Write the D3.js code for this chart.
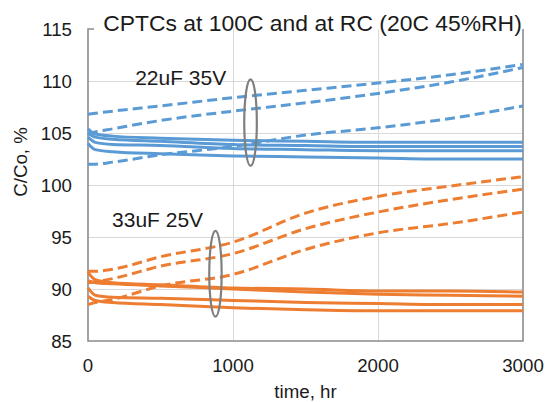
<!DOCTYPE html>
<html lang="en">
<head>
<meta charset="utf-8">
<title>CPTCs</title>
<script src="https://cdn.jsdelivr.net/npm/d3@7"></script>
<style>
  body { margin: 0; background: #fff; }
  svg text { font-family: "Liberation Sans", Arial, sans-serif; fill: #1a1a1a; }
  .grid line { stroke: #d9d9d9; stroke-width: 1.3; shape-rendering: crispEdges; }
  .grid path { stroke: none; }
  .frame { stroke: #8c8c8c; stroke-width: 1.6; fill: none; }
  .series { fill: none; stroke-width: 3; stroke-linejoin: round; }
</style>
</head>
<body>
<script>
  // hours
  var times = [0, 50, 170, 500, 1000, 1500, 2000, 2500, 3000];

  // 22uF 35V, dashed = 100C, solid = RC
  var blueDashed1 = [106.8, 106.9, 107.1, 107.6, 108.4, 109.1, 109.8, 110.6, 111.6];
  var blueDashed2 = [104.9, 105.1, 105.4, 106.2, 107.1, 107.9, 108.8, 109.9, 111.3];
  var blueDashed3 = [102.0, 102.0, 102.2, 102.9, 103.7, 104.8, 105.5, 106.4, 107.6];
  var blueSolid1 = [105.4, 104.9, 104.7, 104.5, 104.3, 104.2, 104.1, 104.1, 104.1];
  var blueSolid2 = [105.0, 104.6, 104.4, 104.2, 103.9, 103.8, 103.7, 103.7, 103.7];
  var blueSolid3 = [104.6, 104.1, 103.9, 103.8, 103.5, 103.4, 103.3, 103.3, 103.3];
  var blueSolid4 = [104.0, 103.4, 103.2, 103.0, 102.8, 102.7, 102.6, 102.5, 102.5];

  // 33uF 25V
  var orangeDashed1 = [91.7, 91.7, 91.9, 93.1, 94.5, 97.3, 98.9, 99.9, 100.8];
  var orangeDashed2 = [90.6, 90.7, 91.0, 92.2, 93.4, 95.8, 97.4, 98.6, 99.6];
  var orangeDashed3 = [88.5, 88.7, 89.0, 90.3, 91.4, 93.8, 95.4, 96.3, 97.4];
  var orangeSolid1 = [91.6, 90.9, 90.6, 90.4, 90.1, 90.0, 89.8, 89.8, 89.7];
  var orangeSolid2 = [90.8, 90.6, 90.5, 90.3, 90.0, 89.7, 89.5, 89.4, 89.3];
  var orangeSolid3 = [90.1, 89.4, 89.2, 89.1, 88.9, 88.7, 88.6, 88.5, 88.5];
  var orangeSolid4 = [89.3, 88.9, 88.7, 88.5, 88.2, 88.0, 87.9, 87.9, 87.9];

  var xTicks = [0, 1000, 2000, 3000];
  var yTicks = [85, 90, 95, 100, 105, 110, 115];

  var blue = "#5b9bd5", orange = "#ed7d31";

  var w = 549, h = 402;
  var m = { top: 29, right: 26, bottom: 61, left: 88 };

  var x = d3.scaleLinear().domain([0, 3000]).range([m.left, w - m.right]);
  var y = d3.scaleLinear().domain([85, 115]).range([h - m.bottom, m.top]);

  var svg = d3.select("body").append("svg")
    .attr("width", w)
    .attr("height", h);

  // horizontal gridlines (no line at the top)
  svg.append("g")
    .attr("class", "grid")
    .attr("transform", "translate(" + m.left + ",0)")
    .call(d3.axisLeft(y).tickValues([90, 95, 100, 105, 110])
      .tickSize(-(w - m.left - m.right)).tickFormat(""));

  // vertical gridlines
  svg.append("g")
    .attr("class", "grid")
    .attr("transform", "translate(0," + (h - m.bottom) + ")")
    .call(d3.axisBottom(x).tickValues([1000, 2000])
      .tickSize(-(h - m.top - m.bottom)).tickFormat(""));

  // axis lines + right border
  svg.append("path")
    .attr("class", "frame")
    .attr("d", "M" + (x(0) + 6) + "," + y(115) + "H" + x(0) + "V" + y(85) + "H" + x(3000) + "V" + y(115));

  // tick labels
  svg.append("g").selectAll("text")
    .data(yTicks).enter().append("text")
    .attr("x", x(0) - 16)
    .attr("y", function(d) { return y(d); })
    .attr("dy", "0.35em")
    .attr("text-anchor", "end")
    .style("font-size", "18.7px")
    .text(function(d) { return d; });

  svg.append("g").selectAll("text")
    .data(xTicks).enter().append("text")
    .attr("x", function(d) { return x(d); })
    .attr("y", 372)
    .attr("text-anchor", "middle")
    .style("font-size", "18.7px")
    .text(function(d) { return d; });

  // titles
  svg.append("text")
    .attr("x", 312.5).attr("y", 31)
    .attr("text-anchor", "middle")
    .style("font-size", "22.9px")
    .text("CPTCs at 100C and at RC (20C 45%RH)");

  svg.append("text")
    .attr("x", (x(0) + x(3000)) / 2).attr("y", 398)
    .attr("text-anchor", "middle")
    .style("font-size", "18.7px")
    .text("time, hr");

  svg.append("text")
    .attr("transform", "translate(20,162) rotate(-90)")
    .attr("dy", "0.35em")
    .attr("text-anchor", "middle")
    .style("font-size", "18.7px")
    .text("C/Co, %");

  // series
  var line = d3.line()
    .x(function(d, i) { return x(times[i]); })
    .y(function(d) { return y(d); })
    .curve(d3.curveMonotoneX);

  var series = [
    { v: blueSolid1, c: blue, dash: false },
    { v: blueSolid2, c: blue, dash: false },
    { v: blueSolid3, c: blue, dash: false },
    { v: blueSolid4, c: blue, dash: false },
    { v: blueDashed1, c: blue, dash: true },
    { v: blueDashed2, c: blue, dash: true },
    { v: blueDashed3, c: blue, dash: true },
    { v: orangeSolid1, c: orange, dash: false },
    { v: orangeSolid2, c: orange, dash: false },
    { v: orangeSolid3, c: orange, dash: false },
    { v: orangeSolid4, c: orange, dash: false },
    { v: orangeDashed1, c: orange, dash: true },
    { v: orangeDashed2, c: orange, dash: true },
    { v: orangeDashed3, c: orange, dash: true }
  ];

  svg.append("g").selectAll("path")
    .data(series).enter().append("path")
    .attr("class", "series")
    .attr("stroke", function(d) { return d.c; })
    .attr("stroke-dasharray", function(d) { return d.dash ? "10,5" : null; })
    .attr("d", function(d) { return line(d.v); });

  // annotations
  svg.append("text")
    .attr("x", x(325)).attr("y", y(109.6))
    .style("font-size", "21px")
    .text("22uF 35V");
  svg.append("text")
    .attr("x", x(166)).attr("y", y(95.96))
    .style("font-size", "21px")
    .text("33uF 25V");

  svg.append("ellipse")
    .attr("cx", x(1121)).attr("cy", y(106.0))
    .attr("rx", 6.3).attr("ry", y(106.0) - y(110.16))
    .attr("fill", "none").attr("stroke", "#7f7f7f").attr("stroke-width", 2.2);
  svg.append("ellipse")
    .attr("cx", x(879)).attr("cy", y(91.46))
    .attr("rx", 6.2).attr("ry", y(91.46) - y(95.58))
    .attr("fill", "none").attr("stroke", "#7f7f7f").attr("stroke-width", 2.2);
</script>
</body>
</html>
